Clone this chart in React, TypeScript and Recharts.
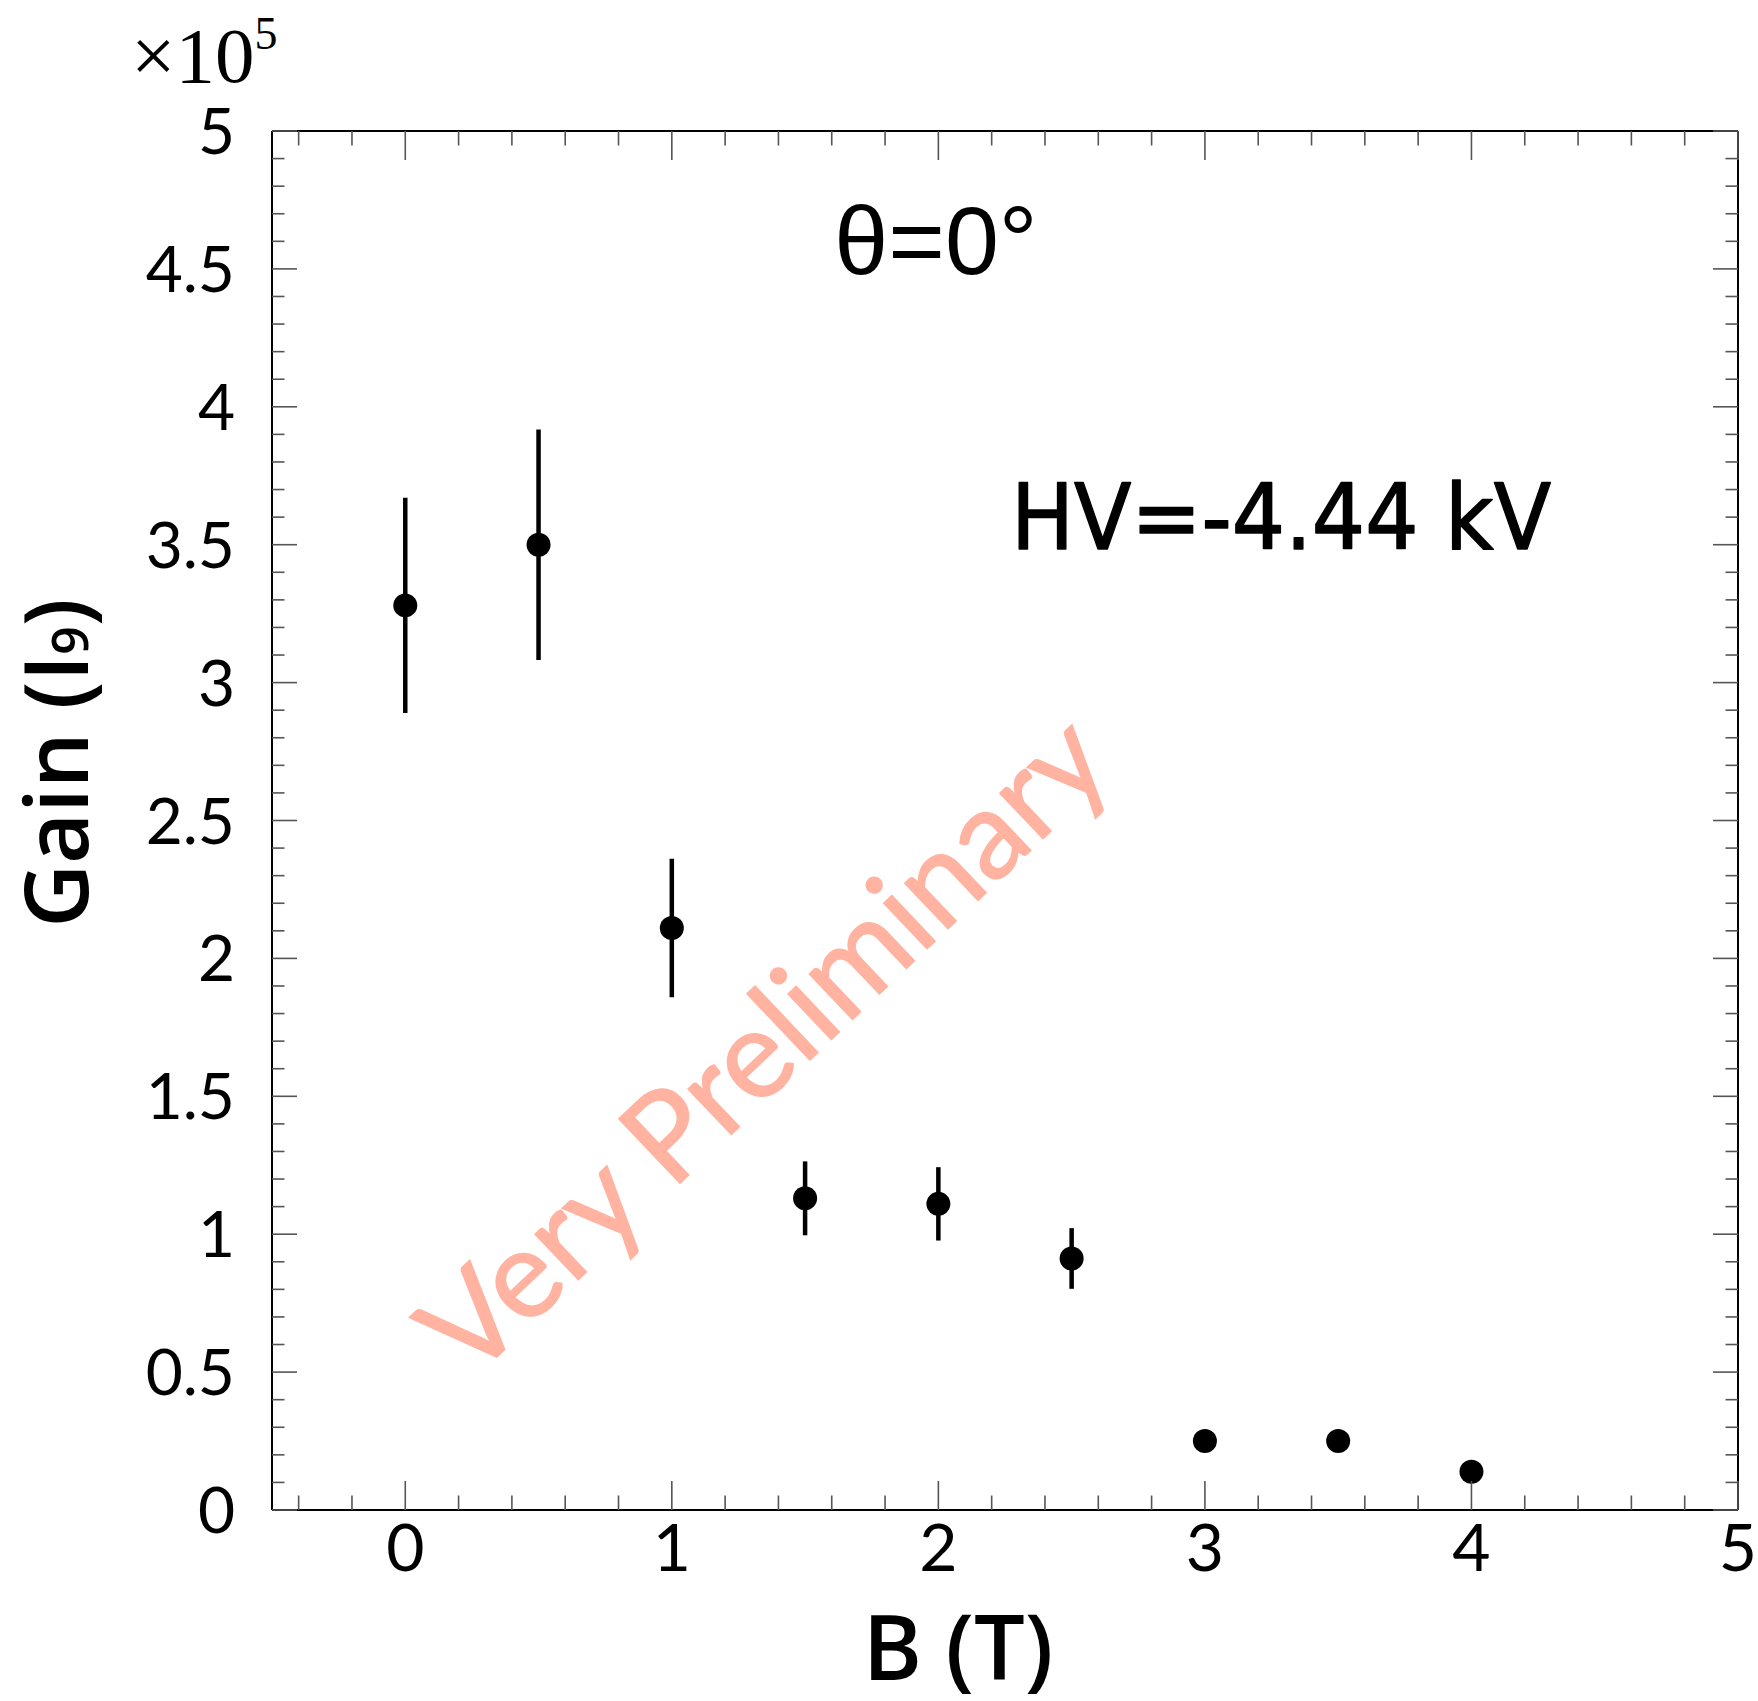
import React from 'react';
import { ScatterChart, Scatter, XAxis, YAxis, ErrorBar } from 'recharts';

// B field (T), gain (x1e5) and its error
const fieldB = [0, 0.5, 1, 1.5, 2, 2.5, 3, 3.5, 4];
const gain = [3.28, 3.5, 2.11, 1.13, 1.11, 0.912, 0.25, 0.25, 0.139];
const gainErr = [0.39, 0.418, 0.251, 0.134, 0.133, 0.11, 0.03, 0.03, 0.02];

// axis ticks: minor every 0.2 on B, every 0.1 on gain
const xTicks = Array.from({ length: 28 }, (_, i) => Math.round((-0.4 + 0.2 * i) * 10) / 10);
const yTicks = Array.from({ length: 51 }, (_, i) => Math.round(i) / 10);

const data = fieldB.map((b, i) => ({ b, gain: gain[i], err: gainErr[i] }));

const W = 1758;
const H = 1701;
const TICK_COLOR = '#555';
const TICK_FONT = 'Lato, "DejaVu Sans", sans-serif';

const isMajorX = (v: number) => Math.abs(v - Math.round(v)) < 1e-6;
const isMajorY = (v: number) => Math.abs(v * 2 - Math.round(v * 2)) < 1e-6;

const BottomTick = (props: any) => {
  const { x, y, payload } = props;
  const v = payload.value;
  const major = isMajorX(v);
  return (
    <g>
      <line x1={x} x2={x} y1={y} y2={y - (major ? 29 : 14.5)} stroke={TICK_COLOR} strokeWidth={1.6} />
      {major && (
        <text x={x} y={y + 61} textAnchor="middle" fontSize={66} fontFamily={TICK_FONT} fill="#000">
          {v}
        </text>
      )}
    </g>
  );
};

const TopTick = (props: any) => {
  const { x, y, payload } = props;
  const major = isMajorX(payload.value);
  return <line x1={x} x2={x} y1={y} y2={y + (major ? 29 : 14.5)} stroke={TICK_COLOR} strokeWidth={1.6} />;
};

const LeftTick = (props: any) => {
  const { x, y, payload } = props;
  const v = payload.value;
  const major = isMajorY(v);
  return (
    <g>
      <line x1={x} x2={x + (major ? 25 : 12.5)} y1={y} y2={y} stroke={TICK_COLOR} strokeWidth={1.6} />
      {major && (
        <text x={x - 37} y={y + 23} textAnchor="end" fontSize={64} fontFamily={TICK_FONT} fill="#000">
          {v}
        </text>
      )}
    </g>
  );
};

const RightTick = (props: any) => {
  const { x, y, payload } = props;
  const major = isMajorY(payload.value);
  return <line x1={x} x2={x - (major ? 25 : 12.5)} y1={y} y2={y} stroke={TICK_COLOR} strokeWidth={1.6} />;
};

const Dot = (props: any) => {
  const { cx, cy } = props;
  return <circle cx={cx} cy={cy} r={12} fill="#000" />;
};

const axisLine = { stroke: '#000', strokeWidth: 2 };

export default function App() {
  return (
    <div style={{ position: 'absolute', left: 0, top: 0, width: W, height: H, background: '#fff' }}>
      <svg width={W} height={H} style={{ position: 'absolute', left: 0, top: 0 }}>
        <text
          x={793}
          y={1076}
          textAnchor="middle"
          fontSize={124}
          fontFamily="Lato, 'Open Sans', sans-serif"
          fill="#FFB3A0"
          stroke="#FFB3A0"
          strokeWidth={1.5}
          transform="rotate(-43.5 793 1076)"
        >
          Very Preliminary
        </text>
      </svg>
      <div style={{ position: 'absolute', left: 0, top: 0 }}>
        <ScatterChart width={W} height={H} margin={{ top: 0, right: 0, bottom: 0, left: 0 }}>
          <XAxis
            xAxisId="b"
            dataKey="b"
            type="number"
            domain={[-0.5, 5]}
            allowDataOverflow
            ticks={xTicks}
            interval={0}
            height={191}
            tickSize={0}
            tickMargin={0}
            tickLine={false}
            axisLine={axisLine}
            tick={<BottomTick />}
          />
          <XAxis
            xAxisId="top"
            orientation="top"
            dataKey="b"
            type="number"
            domain={[-0.5, 5]}
            allowDataOverflow
            ticks={xTicks}
            interval={0}
            height={131}
            tickSize={0}
            tickMargin={0}
            tickLine={false}
            axisLine={axisLine}
            tick={<TopTick />}
          />
          <YAxis
            yAxisId="g"
            dataKey="gain"
            type="number"
            domain={[0, 5]}
            allowDataOverflow
            ticks={yTicks}
            interval={0}
            width={272}
            tickSize={0}
            tickMargin={0}
            tickLine={false}
            axisLine={axisLine}
            tick={<LeftTick />}
          />
          <YAxis
            yAxisId="right"
            orientation="right"
            dataKey="gain"
            type="number"
            domain={[0, 5]}
            allowDataOverflow
            ticks={yTicks}
            interval={0}
            width={20}
            tickSize={0}
            tickMargin={0}
            tickLine={false}
            axisLine={axisLine}
            tick={<RightTick />}
          />
          <Scatter
            xAxisId="top"
            yAxisId="right"
            data={data}
            shape={() => <g />}
            isAnimationActive={false}
          />
          <Scatter xAxisId="b" yAxisId="g" data={data} shape={<Dot />} isAnimationActive={false}>
            <ErrorBar dataKey="err" direction="y" width={0} stroke="#000" strokeWidth={4.5} />
          </Scatter>
        </ScatterChart>
      </div>
      <svg width={W} height={H} style={{ position: 'absolute', left: 0, top: 0, pointerEvents: 'none' }}>
        <text x={131} y={82} fontSize={79} fontFamily="'Liberation Serif', serif" fill="#000">
          ×10<tspan fontSize={46} dy={-33}>5</tspan>
        </text>
        <text x={936} y={274} textAnchor="middle" fontSize={97} fontFamily="'Liberation Sans', sans-serif" fill="#000">
          θ=0°
        </text>
        <text
          x={1011}
          y={549}
          fontSize={90}
          fontFamily="'DejaVu Sans', sans-serif"
          textLength={540}
          lengthAdjust="spacingAndGlyphs"
          fill="#000"
          stroke="#000"
          strokeWidth={1.5}
          strokeLinejoin="round"
        >
          HV=-4.44 kV
        </text>
        <text x={958} y={1680} textAnchor="middle" fontSize={90} fontWeight={600} fontFamily="'Open Sans', sans-serif" fill="#000">
          B (T)
        </text>
        <text
          x={88}
          y={763}
          textAnchor="middle"
          fontSize={88}
          fontWeight={600}
          fontFamily="'Open Sans', sans-serif"
          fill="#000"
          transform="rotate(-90 88 763)"
        >
          Gain (I<tspan fontSize={50}>9</tspan>)
        </text>
      </svg>
    </div>
  );
}
